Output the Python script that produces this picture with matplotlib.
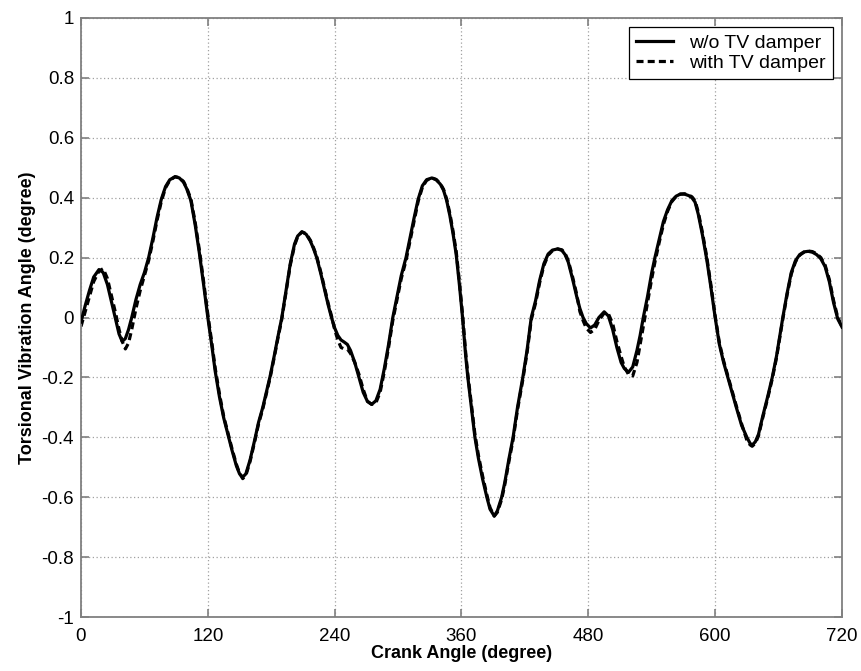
import matplotlib
matplotlib.use("Agg")
import matplotlib.pyplot as plt

plt.rcParams['font.family'] = ['Liberation Sans', 'DejaVu Sans']

crank_angle = [0, 4, 8, 12, 17, 21, 25, 29, 33, 36, 39, 42, 45, 48, 52, 56, 60, 64, 68, 72,
               76, 80, 84, 89, 93, 97, 100, 104, 108, 112, 116, 120, 124, 127, 131, 135, 139,
               143, 147, 150, 153, 156, 160, 164.6, 168, 172, 175, 179, 183, 186, 190, 194, 198,
               202, 205, 209, 213, 217, 220, 223, 227, 231, 234, 237, 240, 243, 246, 249, 252,
               255, 259, 263, 267, 271, 275, 279, 283, 287, 291, 295, 299, 303, 307.5, 311, 315,
               319, 323, 327, 332, 336, 340, 343, 346, 349, 352, 355, 358, 361, 364, 366, 369,
               372.7, 376, 380, 384, 387, 391, 394, 398, 401, 405, 408.8, 413, 418, 422, 426,
               430, 434, 438, 442, 446, 451, 455, 458, 461, 465, 469, 472, 475, 478, 482, 486,
               490, 495, 499, 503, 507, 511, 514, 518, 522, 526, 529, 532, 536, 540, 543, 547,
               551, 555, 559, 563, 567, 571, 575, 578, 581, 584, 588, 592, 596, 600, 604, 608,
               612, 616, 620, 625, 630, 633, 635, 638, 641, 645, 650, 654, 658, 664, 668, 672,
               676, 680, 684, 688, 692, 696, 700, 704, 708, 712, 716, 720]

without_damper = [-0.015, 0.04, 0.09, 0.135, 0.16, 0.15, 0.11, 0.05, -0.01, -0.055, -0.08, -0.07,
                  -0.04, 0.0, 0.06, 0.11, 0.15, 0.2, 0.265, 0.335, 0.395, 0.437, 0.46, 0.47, 0.466,
                  0.452, 0.43, 0.39, 0.31, 0.215, 0.11, 0.0, -0.10, -0.18, -0.265, -0.335, -0.39,
                  -0.445, -0.495, -0.522, -0.533, -0.522, -0.475, -0.405, -0.35, -0.3, -0.255,
                  -0.195, -0.125, -0.07, 0.0, 0.09, 0.18, 0.245, 0.272, 0.286, 0.278, 0.255,
                  0.23, 0.2, 0.145, 0.085, 0.04, 0.0, -0.035, -0.06, -0.075, -0.082, -0.09,
                  -0.11, -0.15, -0.2, -0.25, -0.28, -0.29, -0.278, -0.24, -0.17, -0.09, 0.0,
                  0.07, 0.14, 0.2, 0.26, 0.33, 0.395, 0.44, 0.46, 0.466, 0.46, 0.445, 0.425,
                  0.39, 0.34, 0.28, 0.21, 0.11, 0.0, -0.13, -0.2, -0.29, -0.4, -0.47, -0.54,
                  -0.6, -0.64, -0.663, -0.645, -0.6, -0.55, -0.47, -0.4, -0.3, -0.2, -0.11,
                  0.0, 0.055, 0.125, 0.18, 0.212, 0.225, 0.229, 0.224, 0.21, 0.185, 0.13, 0.07,
                  0.03, 0.0, -0.02, -0.035, -0.025, 0.0, 0.019, 0.005, -0.04, -0.1, -0.15,
                  -0.17, -0.183, -0.165, -0.11, -0.06, 0.0, 0.07, 0.15, 0.2, 0.26, 0.32, 0.36,
                  0.39, 0.405, 0.412, 0.412, 0.407, 0.4, 0.385, 0.345, 0.275, 0.195, 0.1, 0.0,
                  -0.09, -0.15, -0.2, -0.25, -0.3, -0.36, -0.4, -0.42, -0.426, -0.415, -0.39,
                  -0.33, -0.26, -0.2, -0.13, 0.0, 0.08, 0.15, 0.19, 0.21, 0.219, 0.221, 0.218,
                  0.21, 0.196, 0.17, 0.12, 0.05, -0.005, -0.032]

with_damper = [-0.03, 0.02, 0.07, 0.12, 0.155, 0.163, 0.13, 0.07, 0.01, -0.04, -0.08, -0.105,
               -0.085, -0.04, 0.03, 0.09, 0.14, 0.19, 0.255, 0.325, 0.388, 0.433, 0.458, 0.47,
               0.467, 0.454, 0.433, 0.395, 0.318, 0.225, 0.12, 0.01, -0.09, -0.17, -0.255,
               -0.33, -0.385, -0.44, -0.49, -0.52, -0.538, -0.527, -0.48, -0.41, -0.355,
               -0.305, -0.26, -0.2, -0.13, -0.075, -0.005, 0.085, 0.175, 0.24, 0.27, 0.286,
               0.28, 0.258, 0.233, 0.204, 0.15, 0.09, 0.045, 0.005, -0.04, -0.075, -0.1, -0.105,
               -0.105, -0.12, -0.15, -0.19, -0.24, -0.28, -0.29, -0.285, -0.25, -0.18, -0.1,
               -0.01, 0.06, 0.13, 0.19, 0.25, 0.32, 0.388, 0.435, 0.458, 0.466, 0.461, 0.447,
               0.428, 0.395, 0.347, 0.288, 0.22, 0.12, 0.01, -0.12, -0.19, -0.28, -0.39,
               -0.46, -0.53, -0.592, -0.635, -0.663, -0.65, -0.607, -0.557, -0.478, -0.408,
               -0.308, -0.208, -0.118, -0.008, 0.047, 0.117, 0.174, 0.208, 0.223, 0.229,
               0.226, 0.214, 0.19, 0.137, 0.077, 0.02, -0.01, -0.035, -0.05, -0.04, -0.01,
               0.015, 0.012, -0.02, -0.08, -0.13, -0.165, -0.19, -0.195, -0.15, -0.09, -0.03,
               0.05, 0.13, 0.185, 0.25, 0.31, 0.355, 0.387, 0.404, 0.412, 0.413, 0.409, 0.403,
               0.39, 0.352, 0.283, 0.203, 0.108, 0.005, -0.085, -0.145, -0.195, -0.245, -0.295,
               -0.355, -0.41, -0.425, -0.43, -0.42, -0.395, -0.335, -0.265, -0.205, -0.135,
               -0.005, 0.075, 0.145, 0.186, 0.208, 0.218, 0.222, 0.22, 0.213, 0.2, 0.175,
               0.127, 0.057, 0.0, -0.03]

x_ticks = [0, 120, 240, 360, 480, 600, 720]
y_ticks = [-1, -0.8, -0.6, -0.4, -0.2, 0, 0.2, 0.4, 0.6, 0.8, 1]
y_tick_labels = ['-1', '-0.8', '-0.6', '-0.4', '-0.2', '0', '0.2', '0.4', '0.6', '0.8', '1']

fig = plt.figure(figsize=(8.62, 6.71), dpi=100)
ax = fig.add_axes([81/862, 54/671, 761/862, 599/671])

ax.plot(crank_angle, without_damper, color='black', linewidth=2.3, linestyle='-',
        label='w/o TV damper', zorder=3)
ax.plot(crank_angle, with_damper, color='black', linewidth=2.3, linestyle=(0, (2.2, 1.3)),
        label='with TV damper', zorder=2)

ax.set_xlim(0, 720)
ax.set_ylim(-1, 1)
ax.set_xticks(x_ticks)
ax.set_xticklabels([str(t) for t in x_ticks])
ax.set_yticks(y_ticks)
ax.set_yticklabels(y_tick_labels)

ax.grid(True, color='#a0a0a0', linestyle=(0, (1, 2)), linewidth=0.9)
ax.set_axisbelow(True)

frame_color = '#808080'
for s in ax.spines.values():
    s.set_color(frame_color)
    s.set_linewidth(1.3)
ax.tick_params(direction='in', length=6, width=1.2, color=frame_color,
               top=True, right=True, labelsize=13.5)
ax.tick_params(axis='x', pad=8)
ax.tick_params(axis='y', pad=5)

ax.set_xlabel('Crank Angle (degree)', fontsize=13, fontweight='bold', labelpad=0)
ax.set_ylabel('Torsional Vibration Angle (degree)', fontsize=13, fontweight='bold', labelpad=4)

leg = ax.legend(loc='upper right', fontsize=14, frameon=True, fancybox=False,
                edgecolor='black', framealpha=1, borderpad=0.4, handlelength=1.9,
                handletextpad=0.8, labelspacing=0.1, borderaxespad=0.45)
leg.get_frame().set_linewidth(0.9)

fig.savefig('out.png', dpi=100)
